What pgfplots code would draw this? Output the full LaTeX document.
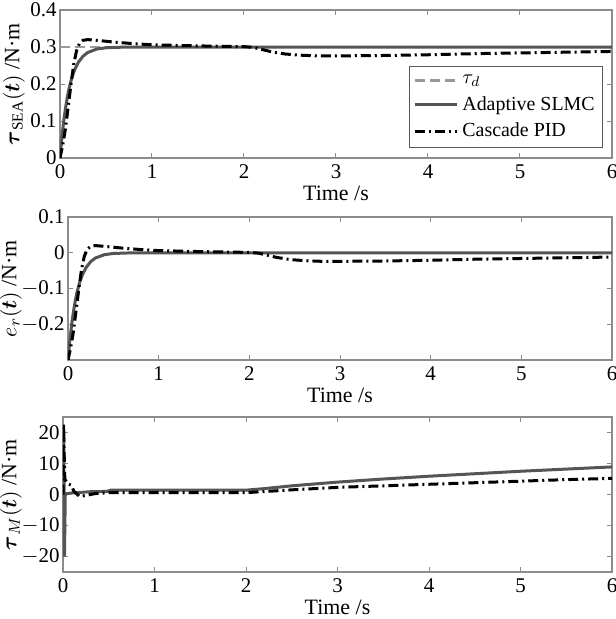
\documentclass[border=0pt]{standalone}
\usepackage{amsmath}
\usepackage{fontspec}
\setmainfont{Liberation Serif}
\usepackage{pgfplots}
\pgfplotsset{compat=1.18}

\definecolor{refgray}{HTML}{9A9A9A}
\definecolor{slmc}{HTML}{555555}
\definecolor{axgray}{HTML}{8C8C8C}

\pgfplotsset{
  matlab/.style={
    scale only axis,
    anchor=north west,
    xmin=0, xmax=6,
    xtick={0,1,2,3,4,5,6},
    tick align=inside,
    xtick pos=both, ytick pos=both,
    major tick length=2.5bp,
    axis line style={draw=axgray, line width=0.6bp},
    every tick/.style={draw=axgray, line width=0.5bp},
    tick label style={font=\fontsize{10.5}{12.5}\selectfont},
    yticklabel style={inner sep=1.5bp},
    label style={font=\fontsize{11}{13}\selectfont},
    /pgf/number format/assume math mode=true,
    xlabel={Time /s},
    xlabel style={at={(axis description cs:0.5,0)}, anchor=center, yshift=-17.5bp},
  },
  refline/.style={color=refgray, line width=1.3bp, dash pattern=on 5bp off 2.5bp},
  slmcline/.style={color=slmc, line width=1.5bp},
  pidline/.style={color=black, line width=1.5bp, dash pattern=on 5bp off 2bp on 1bp off 2bp},
}

\begin{document}
\begin{tikzpicture}
\useasboundingbox (0,0) rectangle (308bp,-309.5bp);

% ---------------- panel 1: output torque
\begin{axis}[
  matlab,
  at={(30bp,-5bp)},
  width=276bp, height=74bp,
  ymin=0, ymax=0.4,
  ytick={0,0.1,0.2,0.3,0.4},
  yticklabels={0,0.1,0.2,0.3,0.4},
  ylabel={$\boldsymbol{\tau}_{\mathrm{SEA}}(\boldsymbol{t})$ /N·m},
  ylabel style={at={(axis description cs:0,0.5)}, anchor=center, yshift=23bp},
  legend cell align=left,
  legend style={at={(rel axis cs:0.984,0.62)}, anchor=north east,
    draw=black!65, line width=0.5bp, font=\fontsize{10}{12}\selectfont,
    inner sep=2bp, row sep=1bp},
  legend image code/.code={\draw[#1] (0bp,0bp) -- (21bp,0bp);},
]
\addplot[refline] coordinates {(0,0.3) (6,0.3)};
\addlegendentry{$\tau_d$}
\addplot[slmcline] coordinates {
  (0,0) (0.02,0.054) (0.04,0.099) (0.06,0.135) (0.08,0.165) (0.10,0.190)
  (0.13,0.218) (0.16,0.239) (0.20,0.259) (0.25,0.275) (0.30,0.285)
  (0.40,0.2945) (0.50,0.298) (0.70,0.2997) (1,0.3) (2,0.3) (6,0.3)};
\addlegendentry{Adaptive SLMC}
\addplot[pidline] coordinates {
  (0,0) (0.03,0.035) (0.06,0.08) (0.09,0.14) (0.12,0.2) (0.15,0.255)
  (0.18,0.29) (0.21,0.309) (0.25,0.318) (0.30,0.32) (0.40,0.318)
  (0.60,0.313) (0.80,0.309) (1,0.306) (1.5,0.303) (2,0.301) (2.1,0.299)
  (2.2,0.293) (2.3,0.287) (2.45,0.281) (2.6,0.278) (2.8,0.276) (3,0.276)
  (3.5,0.277) (4,0.279) (4.5,0.282) (5,0.284) (5.5,0.286) (6,0.288)};
\addlegendentry{Cascade PID}
\end{axis}

% ---------------- panel 2: tracking error
\begin{axis}[
  matlab,
  at={(34bp,-108.5bp)},
  width=272bp, height=71.5bp,
  ymin=-0.3, ymax=0.1,
  ytick={-0.2,-0.1,0,0.1},
  yticklabels={$-$0.2,$-$0.1,0,0.1},
  ylabel={$e_r(\boldsymbol{t})$ /N·m},
  ylabel style={at={(axis description cs:0,0.5)}, anchor=center, yshift=28.5bp},
]
\addplot[slmcline] coordinates {
  (0,-0.3) (0.02,-0.246) (0.04,-0.201) (0.06,-0.165) (0.08,-0.135)
  (0.10,-0.110) (0.13,-0.082) (0.16,-0.061) (0.20,-0.041) (0.25,-0.025)
  (0.30,-0.015) (0.40,-0.0055) (0.50,-0.002) (0.70,-0.0003) (1,0) (2,0) (6,0)};
\addplot[pidline] coordinates {
  (0,-0.3) (0.03,-0.265) (0.06,-0.22) (0.09,-0.16) (0.12,-0.1) (0.15,-0.045)
  (0.18,-0.01) (0.21,0.009) (0.25,0.018) (0.30,0.02) (0.40,0.018)
  (0.60,0.013) (0.80,0.009) (1,0.006) (1.5,0.003) (2,0.001) (2.1,-0.001)
  (2.2,-0.007) (2.3,-0.013) (2.45,-0.019) (2.6,-0.022) (2.8,-0.024)
  (3,-0.024) (3.5,-0.023) (4,-0.021) (4.5,-0.018) (5,-0.016) (5.5,-0.014)
  (6,-0.012)};
\end{axis}

% ---------------- panel 3: motor torque
\begin{axis}[
  matlab,
  at={(31.5bp,-208.5bp)},
  width=274.5bp, height=77.5bp,
  ymin=-25, ymax=25,
  ytick={-20,-10,0,10,20},
  yticklabels={$-$20,$-$10,0,10,20},
  ylabel={$\boldsymbol{\tau}_{M}(\boldsymbol{t})$ /N·m},
  ylabel style={at={(axis description cs:0,0.5)}, anchor=center, yshift=26bp},
]
\addplot[slmcline] coordinates {
  (0,0) (0.008,22) (0.016,-20) (0.025,0.3) (0.05,0.3) (0.1,0.5) (0.3,0.9)
  (0.48,1.0) (0.52,1.4) (1,1.4) (2,1.4) (2.2,1.9) (2.5,2.8) (3,4.0)
  (3.5,5.0) (4,5.9) (4.5,6.7) (5,7.5) (5.5,8.2) (6,8.9)};
\addplot[pidline] coordinates {
  (0,0) (0.004,23) (0.02,5) (0.05,3.5) (0.09,3) (0.12,1) (0.18,-0.6)
  (0.25,-0.3) (0.35,0.3) (0.5,0.6) (1,0.6) (2,0.6) (2.5,1.5) (3,2.3)
  (3.5,2.8) (4,3.3) (4.5,3.8) (5,4.3) (5.5,4.8) (6,5.2)};
\end{axis}
\end{tikzpicture}
\end{document}
